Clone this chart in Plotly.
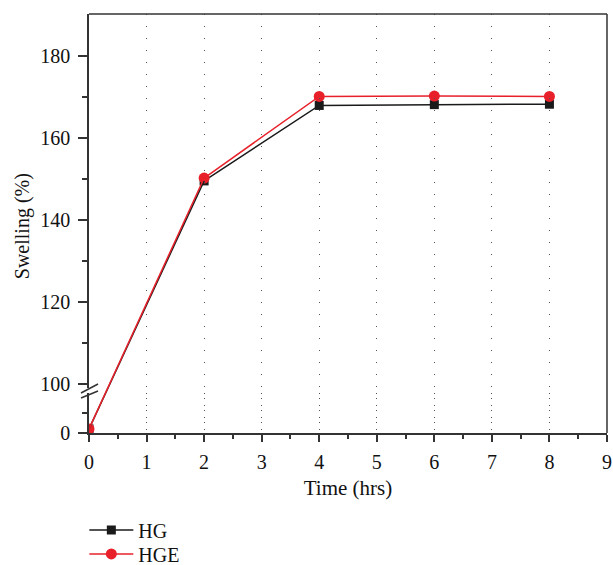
import plotly.graph_objects as go

time_hrs = [0, 2, 4, 6, 8]
hg = [1.0, 149.5, 167.9, 168.1, 168.2]
hge = [1.0, 150.2, 170.1, 170.2, 170.1]
series = [("HG", hg, "#1a1a1a", "square", 9), ("HGE", hge, "#e8202a", "circle", 11)]

x_ticks = list(range(0, 10))
upper_ticks = [100, 120, 140, 160, 180]
lower_ticks = [0]

FONT = "Liberation Serif"

# broken y axis: lower and upper segments
LOW_DOM, LOW_RNG = [0, 0.0955], [0, 9.8]
UP_DOM, UP_RNG = [0.1074, 1], [99, 190.2]


def frac(v, dom, rng):
    return dom[0] + (v - rng[0]) / (rng[1] - rng[0]) * (dom[1] - dom[0])


fig = go.Figure()
legend_names = ["legend", "legend2"]
for i, (name, vals, col, sym, sz) in enumerate(series):
    # segment that crosses the axis break, drawn on a hidden full-height axis whose
    # range is derived so its two end points sit where the two real segments put them
    a, b = vals[0], vals[1]
    fa, fb = frac(a, LOW_DOM, LOW_RNG), frac(b, UP_DOM, UP_RNG)
    span = (b - a) / (fb - fa)
    r0 = a - fa * span
    fig.add_trace(go.Scatter(x=time_hrs[:2], y=vals[:2], yaxis="y%d" % (3 + i), mode="lines",
                             line=dict(color=col, width=1.5), showlegend=False, hoverinfo="skip"))
    fig.update_layout(**{"yaxis%d" % (3 + i): dict(anchor="x", domain=[0, 1], range=[r0, r0 + span],
                                                   visible=False, showgrid=False, zeroline=False,
                                                   fixedrange=True)})
    # lower segment point
    fig.add_trace(go.Scatter(x=time_hrs[:1], y=vals[:1], yaxis="y", mode="markers",
                             marker=dict(symbol=sym, size=sz, color=col), showlegend=False))
    # upper segment points
    fig.add_trace(go.Scatter(x=time_hrs[1:], y=vals[1:], yaxis="y2", name=name,
                             legend=legend_names[i],
                             mode="lines+markers", line=dict(color=col, width=1.5),
                             marker=dict(symbol=sym, size=sz, color=col)))

axis_common = dict(showline=True, linecolor="#333", linewidth=1.5, ticks="outside",
                   tickcolor="#333", tickwidth=1.5,
                   tickfont=dict(family=FONT, size=20, color="#111"), zeroline=False)

leg_common = dict(x=-0.009, xanchor="left", yanchor="middle", itemwidth=44,
                  font=dict(family=FONT, size=20, color="#111"), bgcolor="rgba(0,0,0,0)")

fig.update_layout(
    width=613, height=565,
    margin=dict(l=89, r=6, t=14, b=132, autoexpand=False),
    plot_bgcolor="rgba(0,0,0,0)", paper_bgcolor="white",
    font=dict(family=FONT, color="#111"),
    xaxis=dict(range=[0, 9], tickvals=x_ticks, showgrid=True, gridcolor="#555",
               griddash="1px,11px", gridwidth=1, ticklen=7, ticklabelstandoff=3,
               minor=dict(dtick=0.5, showgrid=False, ticks="outside", ticklen=4,
                          tickcolor="#333", tickwidth=1.5),
               anchor="y", title=dict(text="Time (hrs)", font=dict(family=FONT, size=21), standoff=9),
               **axis_common),
    yaxis=dict(domain=LOW_DOM, range=LOW_RNG, tickvals=lower_ticks, showgrid=False,
               ticklen=9, ticklabelstandoff=4,
               minor=dict(tickvals=[5], ticks="outside", ticklen=5, tickcolor="#333", tickwidth=1.5),
               anchor="x", **axis_common),
    yaxis2=dict(domain=UP_DOM, range=UP_RNG, tickvals=upper_ticks, showgrid=False,
                ticklen=9, ticklabelstandoff=4,
                minor=dict(tickvals=[110, 130, 150, 170], ticks="outside", ticklen=5,
                           tickcolor="#333", tickwidth=1.5),
                anchor="x", **axis_common),
    legend=dict(y=-0.2315, **leg_common),
    legend2=dict(y=-0.2885, **leg_common),
    showlegend=True,
)

# top and right border
fig.add_shape(type="line", xref="paper", yref="paper", x0=0, x1=1, y0=1, y1=1,
              line=dict(color="#333", width=1.5))
fig.add_shape(type="line", xref="paper", yref="paper", x0=1, x1=1, y0=0, y1=1,
              line=dict(color="#333", width=1.5))
# axis break marks
for y0, y1 in ((0.0955, 0.117), (0.0835, 0.1002)):
    fig.add_shape(type="line", xref="paper", yref="paper", x0=-0.0154, x1=0.0174, y0=y0, y1=y1,
                  line=dict(color="#333", width=1.5))

fig.add_annotation(text="Swelling (%)", xref="paper", yref="paper", x=-0.129, y=0.494,
                   xanchor="center", yanchor="middle",
                   textangle=-90, showarrow=False, font=dict(family=FONT, size=20, color="#111"))

fig.write_html("out.html")
